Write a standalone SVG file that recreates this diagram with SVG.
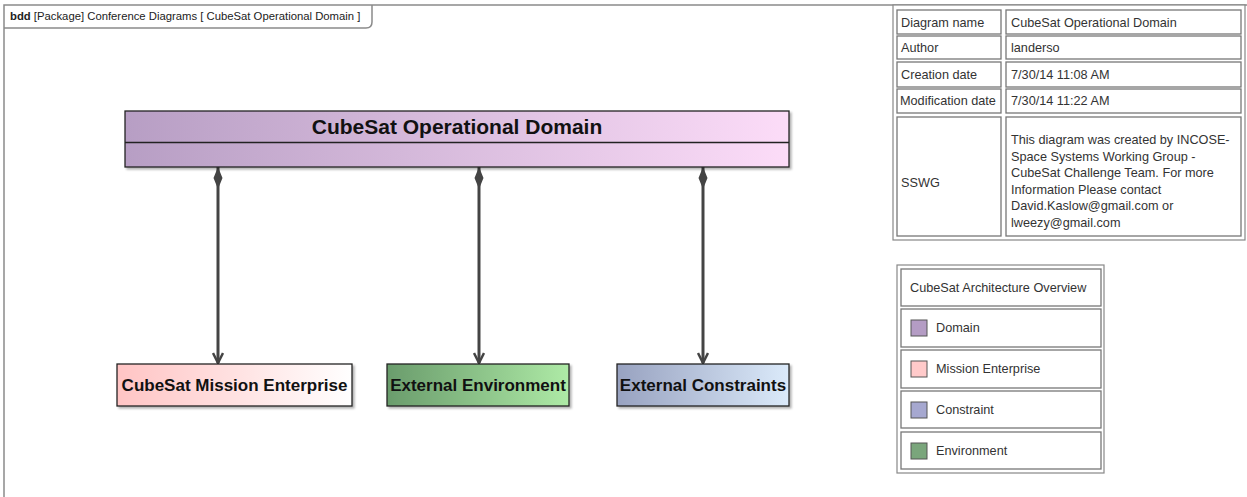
<svg xmlns="http://www.w3.org/2000/svg" width="1247" height="497" viewBox="0 0 1247 497">
<defs>
<linearGradient id="gDomain" x1="0" y1="0" x2="1" y2="0"><stop offset="0" stop-color="#b79ec4"/><stop offset="1" stop-color="#fcdcf8"/></linearGradient>
<linearGradient id="gMission" x1="0" y1="0" x2="1" y2="0"><stop offset="0" stop-color="#ffc4c4"/><stop offset="1" stop-color="#ffffff"/></linearGradient>
<linearGradient id="gEnv" x1="0" y1="0" x2="1" y2="0"><stop offset="0" stop-color="#6a9c6c"/><stop offset="1" stop-color="#aeeaa6"/></linearGradient>
<linearGradient id="gCons" x1="0" y1="0" x2="1" y2="0"><stop offset="0" stop-color="#98a2c0"/><stop offset="1" stop-color="#dbeafa"/></linearGradient>
<marker id="diamond" viewBox="0 0 22 10" refX="0" refY="5" markerWidth="22" markerHeight="10" markerUnits="userSpaceOnUse" orient="auto">
<path d="M0,5 L11,0.5 L22,5 L11,9.5 Z" fill="#444"/>
</marker>
<marker id="arrow" viewBox="0 0 12 12" refX="11" refY="6" markerWidth="12" markerHeight="12" markerUnits="userSpaceOnUse" orient="auto">
<path d="M1,1 L11,6 L1,11" fill="none" stroke="#444" stroke-width="2.5"/>
</marker>
<filter id="sh" x="-5%" y="-5%" width="110%" height="120%"><feDropShadow dx="2" dy="2" stdDeviation="1.2" flood-color="#000" flood-opacity="0.3"/></filter>
</defs>
<style>
text{font-family:"Liberation Sans",Arial,sans-serif;fill:#222}
.frame{fill:none;stroke:#8a8a8a;stroke-width:1.5}
.blk{stroke:#222;stroke-width:1.3}
.bt{font-size:17px;font-weight:bold;fill:#111}
.title{font-size:21px;font-weight:bold;fill:#111}
.cell{fill:#fff;stroke:#777;stroke-width:1.3}
.ct{font-size:12.7px;fill:#333}
.lt{font-size:12.7px;fill:#333}
.conn{stroke:#444;stroke-width:3;fill:none}
.sw{stroke:#555;stroke-width:1}
.hdr{font-size:11.3px}
</style>
<g id="frame">
<path class="frame" d="M4,497 L4,5 L1247,5"/>
<path class="frame" d="M4,28 L366,28 Q372,28 372,22 L372,5"/>
<text class="hdr" x="10" y="20"><tspan font-weight="bold">bdd</tspan> [Package] Conference Diagrams [ CubeSat Operational Domain ]</text>
</g>
<g id="connectors">
<path class="conn" d="M218,167 L218,363" marker-start="url(#diamond)" marker-end="url(#arrow)"/>
<path class="conn" d="M479,167 L479,363" marker-start="url(#diamond)" marker-end="url(#arrow)"/>
<path class="conn" d="M703,167 L703,363" marker-start="url(#diamond)" marker-end="url(#arrow)"/>
</g>
<g id="domain">
<rect class="blk" x="125" y="111" width="664" height="56" fill="url(#gDomain)" filter="url(#sh)"/>
<line class="blk" x1="125" y1="142.5" x2="789" y2="142.5"/>
<text class="title" x="457" y="134" text-anchor="middle">CubeSat Operational Domain</text>
</g>
<g id="mission">
<rect class="blk" x="117" y="364" width="235" height="42" fill="url(#gMission)" filter="url(#sh)"/>
<text class="bt" x="234.5" y="391" text-anchor="middle">CubeSat Mission Enterprise</text>
</g>
<g id="environment">
<rect class="blk" x="387" y="364" width="182" height="42" fill="url(#gEnv)" filter="url(#sh)"/>
<text class="bt" x="478" y="391" text-anchor="middle">External Environment</text>
</g>
<g id="constraints">
<rect class="blk" x="617" y="364" width="172" height="42" fill="url(#gCons)" filter="url(#sh)"/>
<text class="bt" x="703" y="391" text-anchor="middle">External Constraints</text>
</g>
<g id="info-table">
<rect x="893" y="5" width="352" height="235" fill="#fff" stroke="#888" stroke-width="1.2"/>
<rect class="cell" x="897" y="10" width="104" height="24"/>
<rect class="cell" x="1006" y="10" width="235" height="24"/>
<rect class="cell" x="897" y="36" width="104" height="23"/>
<rect class="cell" x="1006" y="36" width="235" height="23"/>
<rect class="cell" x="897" y="62" width="104" height="25"/>
<rect class="cell" x="1006" y="62" width="235" height="25"/>
<rect class="cell" x="897" y="89" width="104" height="24"/>
<rect class="cell" x="1006" y="89" width="235" height="24"/>
<rect class="cell" x="897" y="117" width="104" height="119"/>
<rect class="cell" x="1006" y="117" width="235" height="119"/>
<text class="ct" x="901" y="27">Diagram name</text>
<text class="ct" x="1011" y="27">CubeSat Operational Domain</text>
<text class="ct" x="901" y="52">Author</text>
<text class="ct" x="1011" y="52">landerso</text>
<text class="ct" x="901" y="79">Creation date</text>
<text class="ct" x="1011" y="79">7/30/14 11:08 AM</text>
<text class="ct" x="900" y="105">Modification date</text>
<text class="ct" x="1011" y="105">7/30/14 11:22 AM</text>
<text class="ct" x="901" y="187">SSWG</text>
<text class="ct" x="1011" y="144">This diagram was created by INCOSE-</text>
<text class="ct" x="1011" y="160.5">Space Systems Working Group -</text>
<text class="ct" x="1011" y="177">CubeSat Challenge Team. For more</text>
<text class="ct" x="1011" y="193.5">Information Please contact</text>
<text class="ct" x="1011" y="210">David.Kaslow@gmail.com or</text>
<text class="ct" x="1011" y="226.5">lweezy@gmail.com</text>
</g>
<g id="legend">
<rect x="897" y="265" width="207" height="208" fill="#fff" stroke="#888" stroke-width="1.2"/>
<rect class="cell" x="901" y="269" width="200" height="37"/>
<rect class="cell" x="901" y="309" width="200" height="38"/>
<rect class="cell" x="901" y="350" width="200" height="38"/>
<rect class="cell" x="901" y="391" width="200" height="37"/>
<rect class="cell" x="901" y="432" width="200" height="37"/>
<text class="lt" x="910" y="292">CubeSat Architecture Overview</text>
<rect class="sw" x="911" y="320" width="16" height="16" fill="#b49cc4"/>
<text class="lt" x="936" y="332">Domain</text>
<rect class="sw" x="911" y="361" width="16" height="16" fill="#ffcaca"/>
<text class="lt" x="936" y="373">Mission Enterprise</text>
<rect class="sw" x="911" y="402" width="16" height="16" fill="#a6a8d0"/>
<text class="lt" x="936" y="414">Constraint</text>
<rect class="sw" x="911" y="443" width="16" height="16" fill="#7aa67c"/>
<text class="lt" x="936" y="455">Environment</text>
</g>
</svg>
